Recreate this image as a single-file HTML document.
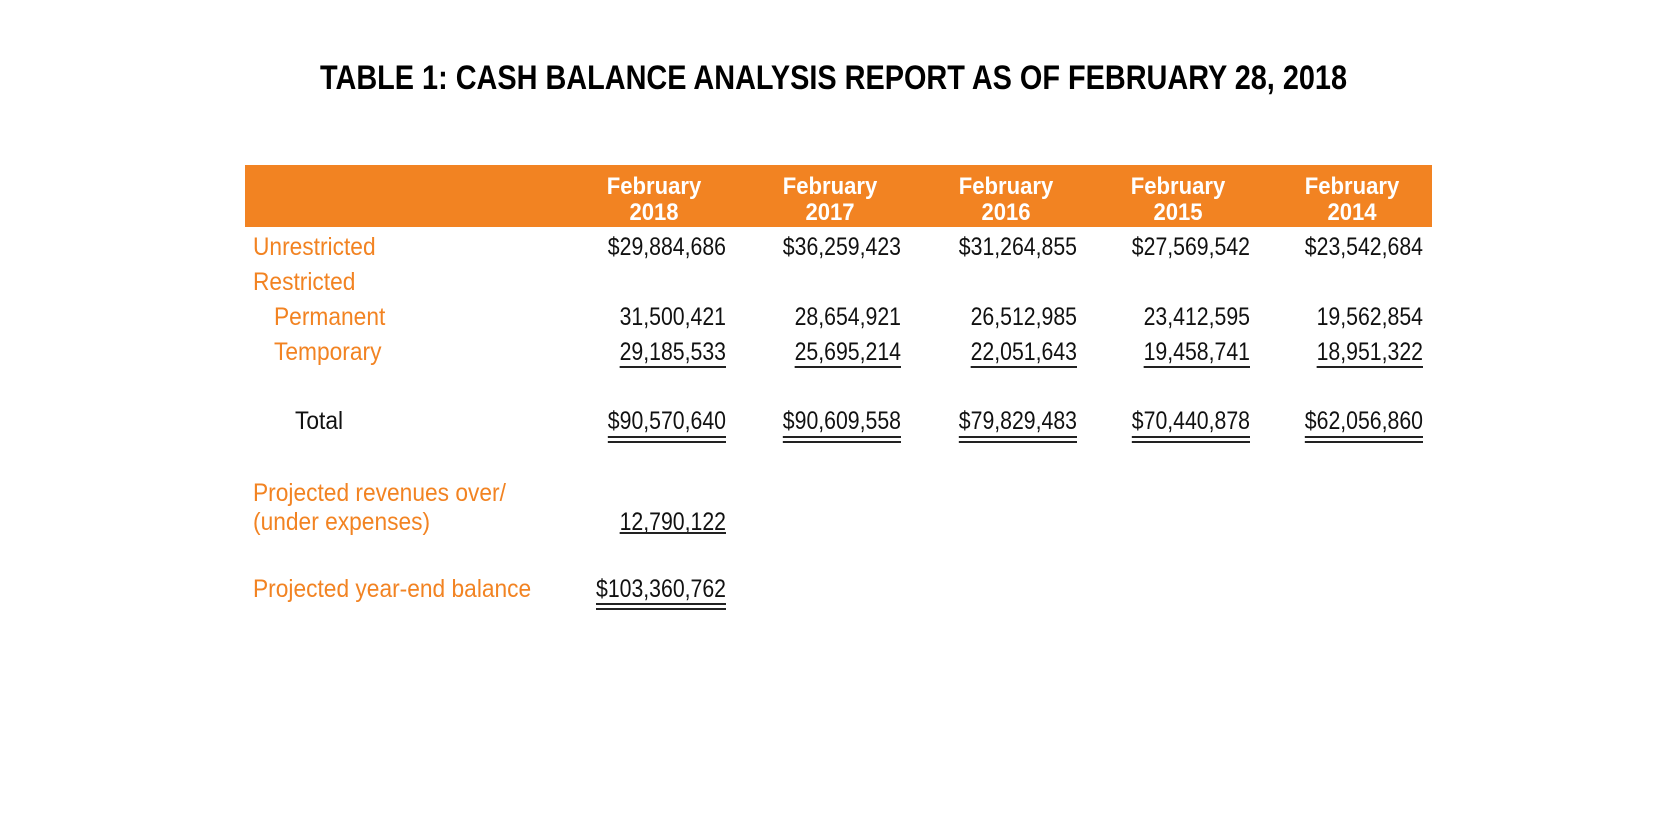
<!DOCTYPE html>
<html><head><meta charset="utf-8"><style>
html,body{margin:0;padding:0;background:#fff;}
svg{display:block;font-family:"Liberation Sans Narrow","Liberation Sans",sans-serif;}
</style></head><body>
<svg id="s" width="1667" height="833" viewBox="0 0 1667 833">
<text x="320" y="89" font-size="34" font-weight="bold" textLength="1027" lengthAdjust="spacingAndGlyphs" fill="#000">TABLE 1: CASH BALANCE ANALYSIS REPORT AS OF FEBRUARY 28, 2018</text>
<rect x="245" y="165" width="1187" height="62" fill="#f28322"/>
<g id="g"></g>
</svg>
<script>
const years=["2018","2017","2016","2015","2014"];
const unrestricted=["$29,884,686","$36,259,423","$31,264,855","$27,569,542","$23,542,684"];
const permanent=["31,500,421","28,654,921","26,512,985","23,412,595","19,562,854"];
const temporary=["29,185,533","25,695,214","22,051,643","19,458,741","18,951,322"];
const totals=["$90,570,640","$90,609,558","$79,829,483","$70,440,878","$62,056,860"];
const projRev="12,790,122";
const projBal="$103,360,762";
const NS="http://www.w3.org/2000/svg";
const g=document.getElementById('g');
const colR=[726,901,1077,1250,1423];
const colC=[654,830,1006,1178,1352];
const OR="#f28322";
function txt(x,y,s,o){const t=document.createElementNS(NS,'text');t.setAttribute('x',x);t.setAttribute('y',y);t.setAttribute('font-size',o.fs||25);t.setAttribute('fill',o.fill||'#111');if(o.anchor)t.setAttribute('text-anchor',o.anchor);if(o.bold)t.setAttribute('font-weight','bold');t.textContent=s;g.appendChild(t);
 if(o.sq){const w=t.getComputedTextLength();t.setAttribute('textLength',(w*o.sq).toFixed(1));t.setAttribute('lengthAdjust','spacingAndGlyphs');t._w=w*o.sq;} else t._w=t.getComputedTextLength();
 return t;}
function line(x1,x2,y){const l=document.createElementNS(NS,'rect');l.setAttribute('x',x1);l.setAttribute('y',y-1);l.setAttribute('width',x2-x1);l.setAttribute('height',2);l.setAttribute('fill','#222');


g.appendChild(l);}
function under(t,right,ys){const w=t._w;ys.forEach(y=>line(right-w,right,y));}
years.forEach((y,i)=>{
 let a=txt(colC[i],194,"February",{fill:'#fff',bold:1,fs:24,anchor:'middle',sq:0.92});
 
 
 let b=txt(colC[i],220,y,{fill:'#fff',bold:1,fs:24,anchor:'middle',sq:0.92});
 
 
});
const labels=[["Unrestricted",253,255,OR],["Restricted",253,290,OR],["Permanent",274,325,OR],["Temporary",274,360,OR],["Total",295,429,'#111'],["Projected revenues over/",253,501,OR],["(under expenses)",253,530,OR],["Projected year-end balance",253,597,OR]];
labels.forEach(l=>{const t=txt(l[1],l[2],l[0],{fill:l[3],sq:0.91});
 
 });
const N=0.85;
years.forEach((y,i)=>{
 let t=txt(colR[i],255,unrestricted[i],{anchor:'end',sq:N});
 
 
 t=txt(colR[i],325,permanent[i],{anchor:'end',sq:N});
 
 
 t=txt(colR[i],360,temporary[i],{anchor:'end',sq:N});
 
 
 under(t,colR[i],[367]);
 t=txt(colR[i],429,totals[i],{anchor:'end',sq:N});
 
 
 under(t,colR[i],[437,442]);
});
let p=txt(colR[0],530,projRev,{anchor:'end',sq:N});


under(p,colR[0],[533]);
p=txt(colR[0],597,projBal,{anchor:'end',sq:N});


under(p,colR[0],[604,609]);
</script>
</body></html>
